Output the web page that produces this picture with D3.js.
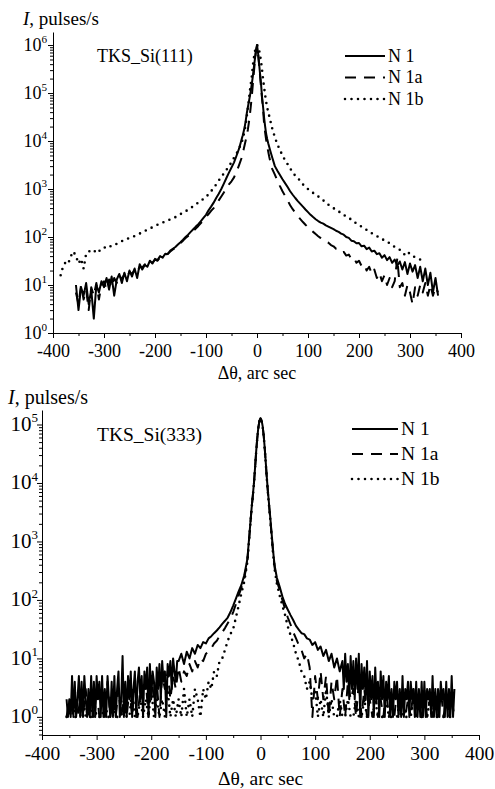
<!DOCTYPE html>
<html>
<head>
<meta charset="utf-8">
<script src="https://cdn.jsdelivr.net/npm/d3@7"></script>
<style>
  body { margin: 0; background: #fff; }
  svg text { font-family: "Liberation Serif", "Times New Roman", serif; fill: #000; }
</style>
</head>
<body>
<svg id="main-svg" width="495" height="789" font-family="Liberation Serif"></svg>
<script>
// sampling grids (arc sec): coarse in the tails, 2" around the peak
const thetaTop = [...d3.range(-385, -30, 5), ...d3.range(-30, 31, 2), ...d3.range(35, 356, 5)];
const thetaBottom = [...d3.range(-355, -30, 5), ...d3.range(-30, 31, 2), ...d3.range(35, 356, 5)];
// N 1 in the (333) panel is read more finely in its noisy tails
const thetaBottomFine = [...d3.range(-355, -150, 2.5), ...d3.range(-150, -30, 5), ...d3.range(-30, 31, 2),
  ...d3.range(35, 150, 5), ...d3.range(150, 356, 2.5)];

const none6 = [null, null, null, null, null, null];

// ---- TKS_Si(111), pulses/s ----
const n1TopLeft = [10, 3, 9, 6, 11, 4, 8, 2, 10, 7,
  12, 9, 14, 8, 15, 6, 13, 17, 11, 18,
  12, 20, 15, 22, 14, 27, 21, 26, 24, 32,
  28, 35, 33, 40, 37, 45, 44, 52, 57, 62,
  70, 78, 88, 100, 112, 128, 145, 165, 185, 215,
  250, 290, 360, 430, 520, 650, 800, 1000, 1300, 1700,
  2200, 2800, 3600, 5000, 7000];
const n1TopCore = [11000, 13000, 16000, 20000, 27000, 38000, 50000, 65000, 85000, 115000,
  160000, 230000, 350000, 520000, 780000, 1000000, 700000, 420000, 250000, 150000,
  80000, 50000, 30000, 20000, 14000, 11000, 9000, 7500, 6300, 5300, 4500];
const n1TopRight = [3000, 2400, 1950, 1600, 1330, 1100, 900, 760, 650, 560,
  490, 430, 375, 330, 290, 260, 235, 215, 200, 190,
  175, 165, 155, 146, 135, 128, 118, 112, 100, 96,
  84, 82, 74, 75, 64, 66, 56, 60, 50, 52,
  44, 46, 37, 42, 33, 38, 29, 34, 25, 31,
  21, 30, 17, 28, 19, 26, 14, 24, 12, 22,
  10, 18, 7, 14, 6];

const n1aTopLeft = [7, 4, 10, 5, 8, 3, 9, 6, 11, 5,
  10, 12, 8, 13, 9, 14, 11, 16, 13, 17,
  14, 19, 17, 21, 18, 24, 23, 27, 25, 30,
  29, 34, 32, 38, 38, 43, 45, 50, 55, 60,
  67, 75, 84, 95, 105, 118, 133, 150, 170, 195,
  225, 260, 300, 350, 400, 480, 580, 700, 850, 1050,
  1250, 1450, 1750, 2300, 3200];
const n1aTopCore = [4500, 5500, 6800, 8500, 10500, 13000, 17000, 24000, 35000, 55000,
  90000, 160000, 280000, 480000, 750000, 950000, 680000, 400000, 230000, 130000,
  75000, 45000, 22000, 15000, 10500, 7800, 6000, 4700, 3800, 3100, 2600];
const n1aTopRight = [2000, 1500, 1150, 900, 720, 580, 460, 380, 320, 275,
  235, 205, 180, 160, 142, 128, 115, 104, 95, 87,
  80, 76, 68, 64, 57, 56, 48, 49, 41, 43,
  35, 37, 29, 32, 25, 27, 20, 24, 17, 21,
  14, 18, 12, 16, 10, 14, 9, 12, 36, 9,
  11, 6, 10, 7, 4, 9, 6, 10, 7, 11,
  6, 10, 6, 9, 7];

const n1bTopLeft = [16, 25, 30, 28, 40, 50,
  40, 28, 35, 22, 45, 50, 52, 48, 55, 50,
  58, 60, 62, 60, 68, 70, 72, 78, 82, 88,
  92, 95, 100, 105, 110, 118, 125, 135, 140, 150,
  160, 170, 180, 190, 200, 210, 220, 235, 245, 260,
  280, 300, 320, 345, 370, 400, 440, 480, 520, 570,
  620, 680, 780, 900, 1050, 1250, 1500, 1800, 2100, 2500,
  3000, 3600, 4500, 5500, 7000];
const n1bTopCore = [9500, 11000, 13500, 17000, 23000, 33000, 48000, 70000, 110000, 160000,
  230000, 380000, 550000, 750000, 900000, 1000000, 950000, 800000, 620000, 450000,
  300000, 190000, 130000, 90000, 65000, 50000, 40000, 33000, 27000, 22000, 18000];
const n1bTopRight = [12000, 8500, 6500, 5000, 4000, 3300, 2700, 2200, 1900, 1700,
  1450, 1250, 1100, 1000, 900, 830, 760, 700, 640, 580,
  520, 470, 430, 400, 370, 340, 320, 290, 265, 250,
  230, 210, 190, 175, 165, 150, 141, 130, 120, 112,
  105, 97, 90, 86, 80, 74, 68, 62, 58, 54,
  50, 42, 48, 45, 40, 38, 36, 34, 32];

// ---- TKS_Si(333), pulses/s ----
const n1BotFarLeft = [2, 1, 2, 1, 5, 1, 4, 1, 2, 5,
  1, 4, 1, 5, 2, 1, 3, 1, 5, 1,
  4, 1, 5, 2, 4, 1, 5, 1, 3, 1,
  5, 2, 1, 4, 1, 5, 1, 3, 6, 1,
  2, 11, 1, 4, 1, 5, 2, 6, 1, 3,
  6, 1, 4, 7, 2, 5, 1, 6, 3, 7,
  1, 8, 2, 6, 4, 1, 7, 3, 8, 2,
  9, 4, 6, 1, 8, 5, 9, 3, 10, 6,
  4, 9];
const n1BotLeft = [9, 12, 8, 13, 10, 15, 12, 17, 15, 19,
  18, 22, 24, 27, 30, 34, 39, 44, 50, 62,
  80, 105, 140, 180];
const n1BotCore = [260, 320, 400, 500, 850, 1400, 2400, 4000, 6200, 10000,
  18000, 34000, 58000, 88000, 115000, 128000, 118000, 93000, 63000, 37000,
  20000, 11000, 6500, 4000, 2500, 1500, 900, 560, 380, 300, 240];
const n1BotRight = [170, 115, 85, 68, 55, 45, 36, 31, 27, 26,
  22, 21, 17, 19, 14, 16, 11, 14, 9, 12,
  7, 10, 6];
const n1BotFarRight = [9, 3, 12, 4, 8, 2, 11, 3, 9, 2,
  10, 3, 12, 1, 8, 3, 7, 2, 9, 1,
  6, 2, 5, 1, 7, 2, 4, 1, 6, 2,
  5, 1, 4, 2, 5, 1, 3, 1, 4, 2,
  4, 1, 3, 1, 5, 1, 3, 2, 4, 1,
  4, 2, 3, 1, 4, 1, 3, 1, 4, 1,
  4, 1, 3, 2, 3, 1, 5, 1, 3, 1,
  3, 1, 4, 2, 3, 1, 4, 1, 3, 1,
  5, 1, 3];

const n1aBotLeft = [1, 2, 1, 3, 1, 2, 1, 3, 1, 2,
  1, 3, 1, 2, 1, 4, 1, 2, 1, 3,
  1, 2, 1, 3, 1, 4, 1, 3, 2, 4,
  1, 5, 2, 4, 1, 5, 3, 6, 2, 5,
  3, 7, 4, 6, 5, 8, 6, 9, 7, 10,
  9, 12, 13, 15, 18, 20, 24, 28, 33, 40,
  48, 62, 85, 120, 160];
const n1aBotCore = [230, 290, 360, 470, 820, 1350, 2350, 3900, 6100, 9800,
  17500, 33000, 57000, 87000, 114000, 127000, 117000, 92000, 62000, 36000,
  19500, 10500, 6200, 3800, 2350, 1400, 850, 520, 350, 270, 210];
const n1aBotRight = [150, 100, 70, 50, 38, 28, 22, 17, 14, 10,
  12, 7, 1, 5, 2, 6, 2, 5, 1, 4,
  2, 5, 1, 3, 1, 4, 2, 3, 1, 4,
  1, 3, 1, 2, 1, 3, 1, 2, 1, 3,
  1, 2, 1, 3, 1, 2, 1, 2, 1, 3,
  1, 2, 1, 3, 1, 2, 1, 2, 1, 3,
  1, 2, 1, 2, 1];

const n1bBotLeft = [1, 1, 2, 1, 1, 1, 2, 1, 1, 1,
  2, 1, 1, 1, 2, 1, 1, 2, 1, 1,
  1, 2, 1, 1, 3, 1, 1, 2, 1, 2,
  1, 3, 1, 2, 1, 2, 1, 3, 1, 2,
  1, 2, 1, 3, 1, 2, 1, 3, 2, 1,
  3, 2, 4, 3, 6, 5, 9, 10, 14, 20,
  26, 32, 50, 80, 130];
const n1bBotCore = [200, 260, 340, 450, 800, 1350, 2300, 3900, 6000, 9800,
  17500, 33000, 57000, 87000, 114000, 127000, 117000, 92000, 62000, 36000,
  19500, 10500, 6000, 3700, 2300, 1350, 800, 500, 330, 250, 190];
const n1bBotRight = [120, 80, 55, 35, 25, 18, 12, 9, 6, 5,
  3, 4, 2, 3, 1, 2, 1, 3, 1, 2,
  1, 1, 2, 1, 1, 2, 1, 1, 2, 1,
  1, 2, 1, 1, 1, 2, 1, 1, 1, 2,
  1, 1, 1, 1, 2, 1, 1, 1, 1, 2,
  1, 1, 1, 1, 1, 2, 1, 1, 1, 1,
  1, 1, 1, 1, 1];

const xTicksMajor = [-400, -300, -200, -100, 0, 100, 200, 300, 400];
const xTicksMinor = [-350, -250, -150, -50, 50, 150, 250, 350];
const yTicksTop = [1, 10, 100, 1e3, 1e4, 1e5, 1e6];
const yTicksBottom = [1, 10, 100, 1e3, 1e4, 1e5];
const legendLabels = ["N 1", "N 1a", "N 1b"];

const lineStyles = [
  { width: 2, dash: null, cap: "butt" },
  { width: 2, dash: "11,8", cap: "butt" },
  { width: 2.6, dash: "0,6.5", cap: "round" }
];

var svg = d3.select("#main-svg");

function drawPanel(p) {
  var g = svg.append("g");
  var fs = p.fontSize;
  var x = d3.scaleLinear().domain([-400, 400]).range([p.left, p.right]);
  var y = d3.scaleLog().domain(p.yDomain).range([p.bottom, p.top]);

  // x axis: major + minor ticks
  g.append("g")
    .attr("transform", "translate(0," + p.bottom + ")")
    .call(d3.axisBottom(x).tickValues(xTicksMinor).tickSize(3).tickSizeOuter(0).tickFormat(""))
    .call(a => a.select(".domain").remove());
  var xa = g.append("g")
    .attr("transform", "translate(0," + p.bottom + ")")
    .call(d3.axisBottom(x).tickValues(xTicksMajor).tickSize(5).tickSizeOuter(0).tickFormat(d => String(d)));
  xa.attr("font-family", null);
  xa.selectAll("text").attr("font-size", fs).attr("dy", null).attr("y", p.xLabelDy);

  // y axis: log scale, decades labelled as powers of ten
  var minor = y.ticks().filter(d => p.yTicks.indexOf(d) < 0);
  g.append("g")
    .attr("transform", "translate(" + p.left + ",0)")
    .call(d3.axisLeft(y).tickValues(minor).tickSize(3).tickSizeOuter(0).tickFormat(""))
    .call(a => a.select(".domain").remove());
  g.append("g")
    .attr("transform", "translate(" + p.left + ",0)")
    .call(d3.axisLeft(y).tickValues(p.yTicks).tickSize(5).tickSizeOuter(0).tickFormat(""));
  g.selectAll(".domain, .tick line").attr("stroke", "#000").attr("stroke-width", 1);

  var yl = g.selectAll(".ylab").data(p.yTicks).enter().append("text")
    .attr("class", "ylab")
    .attr("x", p.left - p.yLabelGap)
    .attr("y", d => y(d) + fs * 0.33)
    .attr("text-anchor", "end")
    .attr("font-size", p.yFontSize);
  yl.append("tspan").text("10");
  yl.append("tspan").text(d => Math.round(Math.log10(d)))
    .attr("font-size", p.yFontSize * 0.62).attr("dy", -p.yFontSize * 0.42);

  // curves
  var line = d3.line()
    .defined(d => d.v != null)
    .x(d => x(d.t))
    .y(d => y(d.v));
  [2, 1, 0].forEach(function (k) {
    var s = p.series[k];
    var pts = s.theta.map((t, i) => ({ t: t, v: s.values[i] }));
    g.append("path")
      .attr("d", line(pts))
      .attr("fill", "none")
      .attr("stroke", "#000")
      .attr("stroke-width", lineStyles[k].width)
      .attr("stroke-linecap", lineStyles[k].cap)
      .attr("stroke-linejoin", "round")
      .attr("stroke-dasharray", lineStyles[k].dash);
  });

  // legend
  legendLabels.forEach(function (name, k) {
    var ly = p.legend.y + k * p.legend.step;
    g.append("line")
      .attr("x1", p.legend.x).attr("x2", p.legend.x + p.legend.len)
      .attr("y1", ly).attr("y2", ly)
      .attr("stroke", "#000")
      .attr("stroke-width", lineStyles[k].width)
      .attr("stroke-linecap", lineStyles[k].cap)
      .attr("stroke-dasharray", lineStyles[k].dash);
    g.append("text")
      .attr("x", p.legend.x + p.legend.len + 3)
      .attr("y", ly + fs * 0.33)
      .attr("font-size", fs)
      .text(name);
  });

  // texts
  g.append("text").attr("x", p.titleX).attr("y", p.titleY).attr("font-size", fs).text(p.title);

  var yt = g.append("text").attr("x", p.yTitleX).attr("y", p.yTitleY).attr("font-size", p.yTitleSize);
  yt.append("tspan").attr("font-style", "italic").text("I");
  yt.append("tspan").text(", pulses/s");

  g.append("text")
    .attr("x", (p.left + p.right) / 2)
    .attr("y", p.xTitleY)
    .attr("text-anchor", "middle")
    .attr("font-size", fs)
    .text("\u0394\u03b8, arc sec");
}

drawPanel({
  left: 53, right: 461, top: 32, bottom: 333,
  yDomain: [1, 1.87e6], yTicks: yTicksTop,
  series: [
    { theta: thetaTop, values: none6.concat(n1TopLeft, n1TopCore, n1TopRight) },
    { theta: thetaTop, values: none6.concat(n1aTopLeft, n1aTopCore, n1aTopRight) },
    { theta: thetaTop, values: n1bTopLeft.concat(n1bTopCore, n1bTopRight, none6) }
  ],
  fontSize: 18, yFontSize: 18, yLabelGap: 6, xLabelDy: 24,
  title: "TKS_Si(111)", titleX: 97, titleY: 62,
  yTitleX: 23, yTitleY: 25, yTitleSize: 19,
  xTitleY: 379,
  legend: { x: 345, y: 56, step: 21.5, len: 40 }
});

drawPanel({
  left: 42, right: 479, top: 410, bottom: 735,
  yDomain: [0.49, 1.77e5], yTicks: yTicksBottom,
  series: [
    { theta: thetaBottomFine, values: n1BotFarLeft.concat(n1BotLeft, n1BotCore, n1BotRight, n1BotFarRight) },
    { theta: thetaBottom, values: n1aBotLeft.concat(n1aBotCore, n1aBotRight) },
    { theta: thetaBottom, values: n1bBotLeft.concat(n1bBotCore, n1bBotRight) }
  ],
  fontSize: 19.5, yFontSize: 21, yLabelGap: 4, xLabelDy: 25,
  title: "TKS_Si(333)", titleX: 97, titleY: 441,
  yTitleX: 8, yTitleY: 404, yTitleSize: 20,
  xTitleY: 785,
  legend: { x: 352, y: 429, step: 25, len: 46 }
});
</script>
</body>
</html>
